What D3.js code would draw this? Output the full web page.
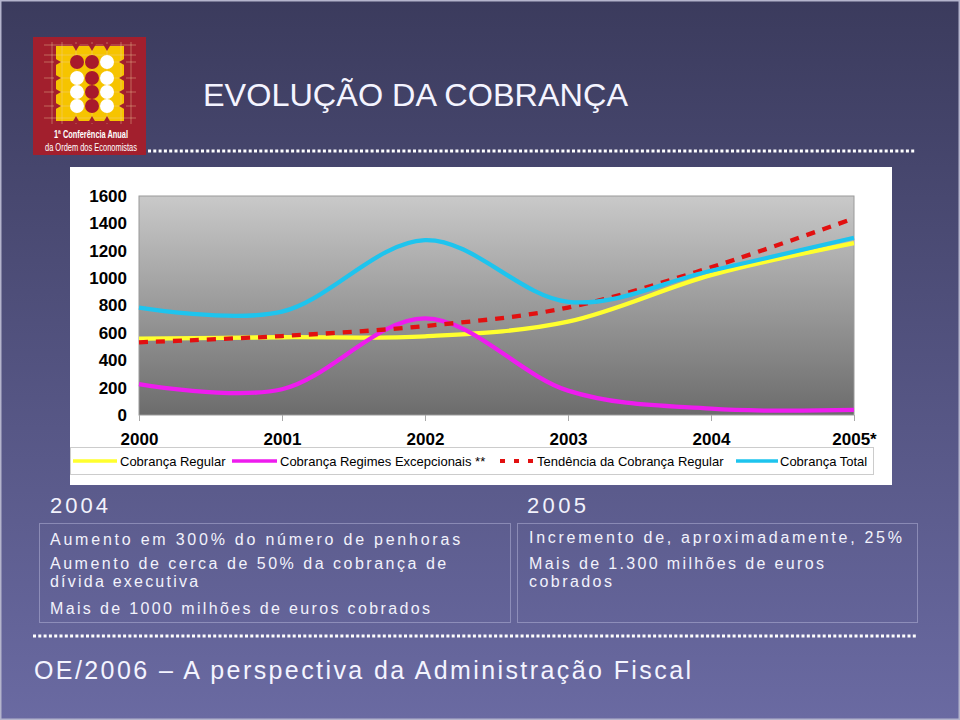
<!DOCTYPE html>
<html>
<head>
<meta charset="utf-8">
<script src="https://cdn.jsdelivr.net/npm/d3@7/dist/d3.min.js"></script>
<style>
html,body{margin:0;padding:0;background:#fff;}
svg{display:block;}
text{font-family:"Liberation Sans",Arial,Helvetica,sans-serif;}
</style>
</head>
<body>
<svg id="chart" width="960" height="720"></svg>
<script>
// ---- data ----
const years = ["2000", "2001", "2002", "2003", "2004", "2005*"];
const cobrancaRegular = [558, 568, 575, 682, 1022, 1256];
const regimesExcepcionais = [226, 188, 706, 178, 46, 37];
const tendenciaRegular = [531, 577, 650, 785, 1079, 1437];
const cobrancaTotal = [784, 755, 1278, 827, 1054, 1295];
const yTickValues = [0, 200, 400, 600, 800, 1000, 1200, 1400, 1600];
const seriesNames = ["Cobrança Regular", "Cobrança Regimes Excepcionais **", "Tendência da Cobrança Regular", "Cobrança Total"];
const title = "EVOLUÇÃO DA COBRANÇA";
const box2004Title = "2004";
const box2004Paras = [["Aumento em 300% do número de penhoras"], ["Aumento de cerca de 50% da cobrança de", "dívida executiva"], ["Mais de 1000 milhões de euros cobrados"]];
const box2005Title = "2005";
const box2005Paras = [["Incremento de, aproximadamente, 25%"], ["Mais de 1.300 milhões de euros", "cobrados"]];
const footer = "OE/2006 – A perspectiva da Administração Fiscal";

const svg = d3.select("#chart");
const defs = svg.append("defs");

// slide background
const bg = defs.append("linearGradient").attr("id","bg").attr("x1",0).attr("y1",0).attr("x2",0).attr("y2",1);
bg.append("stop").attr("offset","0%").attr("stop-color","#3b3b5d");
bg.append("stop").attr("offset","100%").attr("stop-color","#6a6aa2");
svg.append("rect").attr("width",960).attr("height",720).attr("fill","url(#bg)");
svg.append("rect").attr("x",0.75).attr("y",0.75).attr("width",958.5).attr("height",718.5)
  .attr("fill","none").attr("stroke","#b4b4cc").attr("stroke-width",1.5);

// ---- logo ----
const logo = svg.append("g");
logo.append("rect").attr("x",33).attr("y",37).attr("width",113).attr("height",118).attr("fill","#a21f2d");
logo.append("rect").attr("x",56).attr("y",46).attr("width",68).attr("height",75).attr("fill","#f6c400");
[52,62,76,92,107,121,131].forEach(gx=>{
  logo.append("line").attr("x1",gx).attr("x2",gx).attr("y1",42).attr("y2",124).attr("stroke","#f4d0a0").attr("stroke-width",0.6).attr("opacity",0.7);
});
[45,55,62,78,92,106,118].forEach(gy=>{
  logo.append("line").attr("x1",44).attr("x2",136).attr("y1",gy).attr("y2",gy).attr("stroke","#f4d0a0").attr("stroke-width",0.6).attr("opacity",0.7);
});
const arrow = (x,y,dir)=>{
  let p;
  if(dir==="r") p=[[x-4,y-4],[x+3,y],[x-4,y+4]];
  if(dir==="l") p=[[x+4,y-4],[x-3,y],[x+4,y+4]];
  if(dir==="d") p=[[x-4,y-4],[x,y+3],[x+4,y-4]];
  if(dir==="u") p=[[x-4,y+4],[x,y-3],[x+4,y+4]];
  logo.append("path").attr("d","M"+p.map(q=>q.join(",")).join("L")+"Z").attr("fill","#a21f2d");
};
[62,78,92,106].forEach(yy=>{arrow(58,yy,"r");arrow(122,yy,"l");});
[76,92,107].forEach(xx=>{arrow(xx,48,"d");arrow(xx,119,"u");});
const circ = [["d","d","w"],["w","d","w"],["w","d","w"],["w","d","w"]];
const cy = [62,78,92,106], cx=[77,92,107];
circ.forEach((row,i)=>row.forEach((c,j)=>{
  logo.append("circle").attr("cx",cx[j]).attr("cy",cy[i]).attr("r",7)
    .attr("fill", c==="d" ? "#a8192b" : "#ffffff");
}));
logo.append("text").attr("x",91).attr("y",138).attr("text-anchor","middle").attr("fill","#fff")
  .attr("font-size",10.5).attr("font-weight","bold").attr("textLength",74).attr("lengthAdjust","spacingAndGlyphs")
  .text("1ª Conferência Anual");
logo.append("text").attr("x",91).attr("y",151).attr("text-anchor","middle").attr("fill","#fff")
  .attr("font-size",10.5).attr("textLength",92).attr("lengthAdjust","spacingAndGlyphs")
  .text("da Ordem dos Economistas");

// title
svg.append("text").attr("x",203).attr("y",106).attr("fill","#f4f4ff").attr("font-size",32)
  .attr("textLength",425).attr("lengthAdjust","spacingAndGlyphs").text(title);

// dotted separator lines
svg.append("line").attr("x1",148).attr("x2",916).attr("y1",151).attr("y2",151)
  .attr("stroke","#ffffff").attr("stroke-width",3).attr("stroke-dasharray","3 2.3");
svg.append("line").attr("x1",33).attr("x2",918).attr("y1",636).attr("y2",636)
  .attr("stroke","#ffffff").attr("stroke-width",3).attr("stroke-dasharray","3 2.3");

// ---- chart panel ----
svg.append("rect").attr("x",70).attr("y",167).attr("width",822).attr("height",318).attr("fill","#ffffff");

const plot = {left:139, right:854, top:196, bottom:415};
const x = d3.scalePoint().domain(years).range([plot.left, plot.right]);
const y = d3.scaleLinear().domain([0,1600]).range([plot.bottom, plot.top]);

const pg = defs.append("linearGradient").attr("id","plotbg").attr("x1",0).attr("y1",0).attr("x2",0).attr("y2",1);
pg.append("stop").attr("offset","0%").attr("stop-color","#c9c9c9");
pg.append("stop").attr("offset","100%").attr("stop-color","#6c6c6c");
svg.append("rect").attr("x",plot.left).attr("y",plot.top).attr("width",plot.right-plot.left)
  .attr("height",plot.bottom-plot.top).attr("fill","url(#plotbg)").attr("stroke","#9a9a9a").attr("stroke-width",1);

// axes
const yAxis = svg.append("g").attr("transform",`translate(${plot.left},0)`)
  .call(d3.axisLeft(y).tickValues(yTickValues).tickSize(0).tickPadding(12).tickFormat(d3.format("d")));
yAxis.select(".domain").remove();
yAxis.selectAll("text").attr("font-size",17).attr("font-weight","bold").attr("fill","#000")
  .attr("font-family","'Liberation Sans',Arial,sans-serif");

const xAxis = svg.append("g").attr("transform",`translate(0,${plot.bottom})`)
  .call(d3.axisBottom(x).tickSize(6).tickPadding(12));
xAxis.select(".domain").remove();
xAxis.selectAll("line").attr("stroke","#a8a8a8");
xAxis.selectAll("text").attr("font-size",17).attr("font-weight","bold").attr("fill","#000")
  .attr("font-family","'Liberation Sans',Arial,sans-serif");

// lines
const curve = d3.curveCatmullRom.alpha(0);
const lineGen = d3.line().x((d,i)=>x(years[i])).y(d=>y(d)).curve(curve);
const series = [
  {vals: cobrancaRegular, color:"#ffff2e", dash:null, w:4.3},
  {vals: regimesExcepcionais, color:"#ee1cee", dash:null, w:4.3},
  {vals: tendenciaRegular, color:"#e21010", dash:"9 8", w:4.3},
  {vals: cobrancaTotal, color:"#1ec4ee", dash:null, w:4.3}
];
series.forEach(s=>{
  svg.append("path").datum(s.vals).attr("d",lineGen).attr("fill","none")
    .attr("stroke",s.color).attr("stroke-width",s.w)
    .attr("stroke-dasharray",s.dash).attr("stroke-linejoin","round");
});

// legend
svg.append("rect").attr("x",70.5).attr("y",447.5).attr("width",803).attr("height",27)
  .attr("fill","#fff").attr("stroke","#cccccc");
const legendItems = [
  {x1:73, x2:117, tx:120},
  {x1:232, x2:277, tx:280},
  {x1:500, x2:533, tx:537},
  {x1:736, x2:778, tx:780}
];
legendItems.forEach((it,i)=>{
  const s = series[i];
  svg.append("line").attr("x1",it.x1).attr("x2",it.x2).attr("y1",461).attr("y2",461)
    .attr("stroke",s.color).attr("stroke-width",s.dash?4:3.5)
    .attr("stroke-dasharray", s.dash ? "5 9" : null);
  svg.append("text").attr("x",it.tx).attr("y",465.5).attr("font-size",13).attr("fill","#000").text(seriesNames[i]);
});

// ---- text boxes ----
const txtCol = "#f2f2fc";
function spacingFor(str, size, target){
  const t = svg.append("text").attr("font-size",size).attr("x",-1000).attr("y",-1000).text(str);
  const w = t.node().getComputedTextLength();
  t.remove();
  return (target - w) / Math.max(1, str.length - 1);
}
function para(x0, y0, lines, widths, size){
  const t = svg.append("text").attr("x",x0).attr("y",y0).attr("fill",txtCol).attr("font-size",size);
  lines.forEach((ln,i)=>{
    t.append("tspan").attr("x",x0).attr("dy", i===0 ? 0 : 18)
      .attr("letter-spacing", spacingFor(ln,size,widths[i]).toFixed(2)).text(ln);
  });
}
svg.append("text").attr("x",50).attr("y",513).attr("fill",txtCol).attr("font-size",22)
  .attr("letter-spacing", spacingFor(box2004Title,22,58).toFixed(2)).text(box2004Title);
svg.append("rect").attr("x",39.5).attr("y",523.5).attr("width",471).attr("height",99)
  .attr("fill","none").attr("stroke","#b8b8da").attr("stroke-width",1).attr("stroke-dasharray","1 1");
const p2004 = [{y:545,w:[410]},{y:569,w:[396,148]},{y:614,w:[380]}];
box2004Paras.forEach((p,i)=>para(50, p2004[i].y, p, p2004[i].w, 16));

svg.append("text").attr("x",527).attr("y",513).attr("fill",txtCol).attr("font-size",22)
  .attr("letter-spacing", spacingFor(box2005Title,22,59).toFixed(2)).text(box2005Title);
svg.append("rect").attr("x",517.5).attr("y",523.5).attr("width",400).attr("height",99)
  .attr("fill","none").attr("stroke","#b8b8da").attr("stroke-width",1).attr("stroke-dasharray","1 1");
const p2005 = [{y:543,w:[373]},{y:569,w:[295,83]}];
box2005Paras.forEach((p,i)=>para(529, p2005[i].y, p, p2005[i].w, 16));

// footer
svg.append("text").attr("x",34).attr("y",679).attr("fill","#f4f4ff").attr("font-size",25)
  .attr("textLength",657).attr("lengthAdjust","spacing").text(footer);
</script>
</body>
</html>
